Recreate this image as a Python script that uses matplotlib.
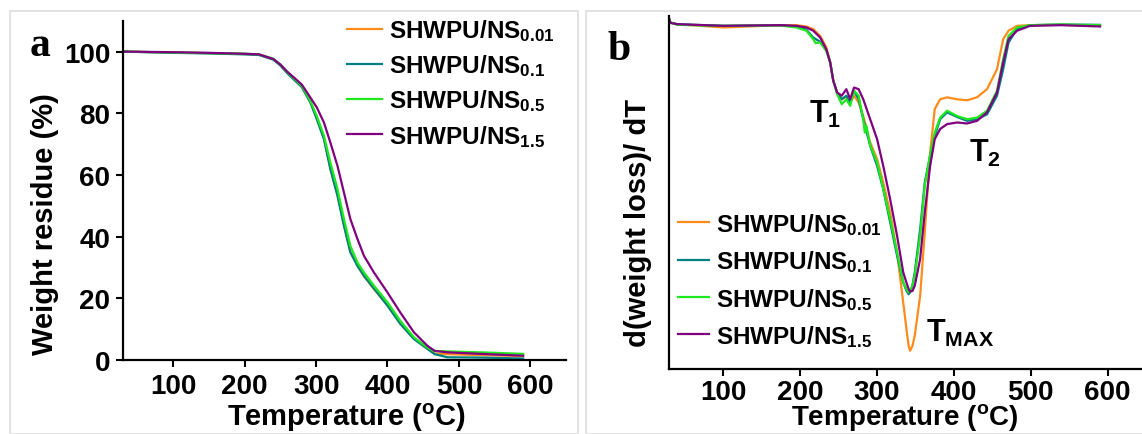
import matplotlib
matplotlib.use("Agg")
import matplotlib.pyplot as plt
from matplotlib.patches import Rectangle

plt.rcParams["font.family"] = "Liberation Sans"
plt.rcParams["font.weight"] = "bold"
plt.rcParams["mathtext.fontset"] = "custom"
plt.rcParams["mathtext.rm"] = "Liberation Sans:bold"
plt.rcParams["mathtext.it"] = "Liberation Sans:bold"
plt.rcParams["mathtext.bf"] = "Liberation Sans:bold"
plt.rcParams["mathtext.default"] = "rm"

labels = ["SHWPU/NS$_{0.01}$", "SHWPU/NS$_{0.1}$", "SHWPU/NS$_{0.5}$", "SHWPU/NS$_{1.5}$"]
colors = ["#ff8c1a", "#008080", "#1ee81e", "#800080"]

# (a) TGA - weight residue (%)
T_a = [30, 100, 150, 200, 220, 240, 250, 260, 270, 280, 292, 301, 311, 320, 330, 339, 348,
       358, 367, 381, 400, 418, 437, 456, 466, 484, 531, 590]
W_001 = [100, 99.7, 99.5, 99.2, 99.0, 97.5, 95.6, 93.0, 90.8, 88.6, 83.6, 78.3, 71.8, 62.2, 53.6,
         44.0, 35.2, 30.6, 27.2, 23.0, 17.8, 11.9, 7.0, 3.7, 2.1, 1.9, 1.6, 1.3]
W_01 = [100, 99.6, 99.4, 99.1, 98.9, 97.4, 95.5, 92.9, 90.7, 88.5, 83.5, 78.1, 71.6, 61.9, 53.2,
        43.5, 34.9, 30.5, 27.3, 23.2, 17.6, 11.7, 6.8, 3.6, 1.9, 0.9, 0.8, 0.5]
W_05 = [100, 99.7, 99.5, 99.3, 99.1, 97.7, 95.8, 93.3, 91.1, 88.9, 84.0, 79.1, 72.7, 64.0, 55.4,
        45.7, 37.0, 31.6, 28.4, 24.1, 18.7, 12.7, 7.4, 4.0, 2.9, 2.8, 2.5, 2.0]
W_15 = [100, 99.8, 99.6, 99.3, 99.1, 97.6, 95.8, 93.4, 91.4, 89.3, 85.1, 81.9, 77.0, 70.5, 62.9,
        54.3, 45.7, 39.2, 33.8, 28.4, 21.9, 15.4, 9.0, 4.6, 3.0, 2.5, 2.0, 1.4]

# (b) DTG - d(weight loss)/dT, arbitrary units
T_b = [29, 31, 40, 100, 174, 195, 208, 217, 226, 234, 239, 243, 248, 254, 260, 265, 270, 276,
       282, 291, 300, 308, 317, 326, 334, 338, 341, 343, 346, 349, 356, 362, 369, 375, 382, 391,
       404, 417, 430, 443, 456, 464, 471, 482, 499, 540, 590]
D_001 = [0.02, 0.005, 0.0, -0.01, -0.003, -0.003, -0.007, -0.015, -0.036, -0.071, -0.117, -0.173,
         -0.209, -0.230, -0.222, -0.240, -0.219, -0.240, -0.281, -0.362, -0.413, -0.485, -0.577,
         -0.699, -0.852, -0.93, -0.985, -1.0, -0.985, -0.954, -0.832, -0.638, -0.393, -0.260,
         -0.230, -0.224, -0.230, -0.233, -0.224, -0.199, -0.138, -0.046, -0.020, -0.005, -0.003,
         -0.002, -0.005]
D_01 = [0.02, 0.005, 0.0, -0.005, -0.003, -0.007, -0.017, -0.041, -0.054, -0.080, -0.117, -0.173,
        -0.211, -0.230, -0.219, -0.240, -0.204, -0.230, -0.291, -0.372, -0.434, -0.505, -0.607,
        -0.709, -0.791, -0.815, -0.827, -0.821, -0.80, -0.760, -0.628, -0.485, -0.403, -0.342,
        -0.291, -0.270, -0.284, -0.296, -0.291, -0.276, -0.219, -0.138, -0.056, -0.015, -0.003,
        -0.001, -0.002]
D_15 = [0.02, 0.004, 0.0, -0.005, -0.003, -0.005, -0.010, -0.020, -0.041, -0.077, -0.117, -0.173,
        -0.209, -0.219, -0.199, -0.230, -0.194, -0.199, -0.230, -0.291, -0.352, -0.434, -0.536,
        -0.648, -0.760, -0.79, -0.811, -0.819, -0.817, -0.801, -0.719, -0.577, -0.434, -0.352,
        -0.321, -0.306, -0.301, -0.304, -0.296, -0.270, -0.209, -0.117, -0.046, -0.020, -0.005,
        -0.003, -0.007]
T_b05 = [29, 31, 40, 100, 174, 195, 208, 217, 220, 226, 234, 239, 243, 248, 254, 260, 265, 270,
         276, 282, 284, 286, 291, 300, 308, 317, 326, 334, 338, 341, 343, 346, 349, 356, 362, 369,
         375, 382, 391, 404, 417, 430, 443, 456, 464, 471, 482, 499, 540, 590]
D_05 = [0.02, 0.005, -0.002, -0.005, -0.004, -0.010, -0.020, -0.046, -0.058, -0.056, -0.082,
        -0.117, -0.173, -0.214, -0.245, -0.230, -0.250, -0.204, -0.219, -0.291, -0.332, -0.311,
        -0.372, -0.423, -0.505, -0.597, -0.699, -0.791, -0.81, -0.821, -0.816, -0.80, -0.770,
        -0.648, -0.495, -0.398, -0.332, -0.286, -0.265, -0.281, -0.291, -0.286, -0.265, -0.204,
        -0.107, -0.036, -0.010, -0.003, -0.001, -0.003]

fig = plt.figure(figsize=(11.42, 4.35), dpi=100)

# light panel frames
fig.patches.append(Rectangle((10 / 1142, 0), 568 / 1142, 423 / 435, transform=fig.transFigure,
                             fill=False, edgecolor="#dddddd", lw=1.2))
fig.patches.append(Rectangle((586 / 1142, 0), 560 / 1142, 423 / 435, transform=fig.transFigure,
                             fill=False, edgecolor="#dddddd", lw=1.2))

ax1 = fig.add_axes([0.108, 0.170, 0.3876, 0.780])
ax2 = fig.add_axes([0.5854, 0.1494, 0.4146, 0.8122])

for ax in (ax1, ax2):
    for s in ("top", "right"):
        ax.spines[s].set_visible(False)
    for s in ("left", "bottom"):
        ax.spines[s].set_linewidth(1.6)
    ax.tick_params(axis="both", which="major", labelsize=20, width=1.5, length=5, pad=4.5)
ax2.tick_params(axis="x", pad=2.5)

# panel a
for W, c, lab in zip([W_001, W_01, W_05, W_15], colors, labels):
    ax1.plot(T_a, W, color=c, lw=1.6, label=lab)
ax1.set_xlim(30, 650)
ax1.set_ylim(0, 110)
ax1.set_xticks([100, 200, 300, 400, 500, 600])
ax1.set_yticks([0, 20, 40, 60, 80, 100])
ax1.set_xlabel("Temperature ($^{o}$C)", fontsize=21, fontweight="bold", va="baseline")
ax1.set_ylabel("Weight residue (%)", fontsize=21, fontweight="bold")
ax1.xaxis.set_label_coords(0.505, -0.192)
ax1.yaxis.set_label_coords(-0.145, 0.404)
ax1.legend(loc="upper left", bbox_to_anchor=(0.3036, 0.958), bbox_transform=fig.transFigure,
           frameon=False, fontsize=17.5, handlelength=1.45, handletextpad=0.3,
           labelspacing=0.38, borderpad=0, borderaxespad=0)
fig.text(30 / 1142, 1 - 56 / 435, "a", fontsize=30, fontweight="bold", family="Liberation Serif")

# panel b
for T, D, c, lab in zip([T_b, T_b, T_b05, T_b], [D_001, D_01, D_05, D_15], colors, labels):
    ax2.plot(T, D, color=c, lw=1.6, label=lab)
ax2.set_xlim(28.7, 644.6)
ax2.set_ylim(-1.056, 0.026)
ax2.set_xticks([100, 200, 300, 400, 500, 600])
ax2.set_yticks([])
ax2.set_xlabel("Temperature ($^{o}$C)", fontsize=20, fontweight="bold", va="baseline")
ax2.set_ylabel("d(weight loss)/ dT", fontsize=21, fontweight="bold")
ax2.xaxis.set_label_coords(0.50, -0.156)
ax2.yaxis.set_label_coords(-0.035, 0.415)
ax2.legend(loc="upper left", bbox_to_anchor=(678.4 / 1142, 1 - 212 / 435),
           bbox_transform=fig.transFigure, frameon=False, fontsize=17.5, handlelength=1.26,
           handletextpad=0.3, labelspacing=0.47, borderpad=0, borderaxespad=0)
ax2.text(212, -0.30, "T$_{1}$", fontsize=22, fontweight="bold")
ax2.text(420, -0.418, "T$_{2}$", fontsize=22, fontweight="bold")
ax2.text(364, -0.97, "T$_{MAX}$", fontsize=22, fontweight="bold")
fig.text(607 / 1142, 1 - 60 / 435, "b", fontsize=30, fontweight="bold", family="Liberation Serif")

plt.savefig("out.png", dpi=100)
